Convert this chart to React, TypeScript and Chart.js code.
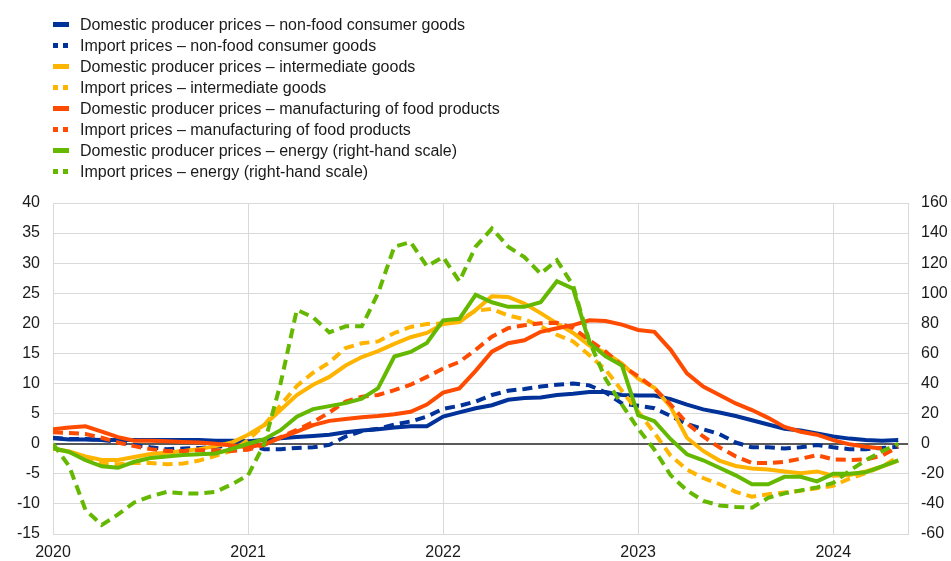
import React, { useEffect, useRef } from "react";
import { Chart, registerables } from "chart.js";

Chart.register(...registerables);

// Monthly periods, January 2020 to May 2024
const periods: string[] = [];
for (let y = 2020; y <= 2024; y++) {
  for (let m = 1; m <= 12; m++) {
    if (y === 2024 && m > 5) break;
    periods.push(`${y}-${String(m).padStart(2, "0")}`);
  }
}
const yearTicks = [2020, 2021, 2022, 2023, 2024];

// Left-hand scale (% changes)
const ppiNonFood = [
  0.9, 0.7, 0.7, 0.6, 0.6, 0.6, 0.6, 0.6, 0.6, 0.6, 0.5, 0.5, 0.4,
  0.6, 0.9, 1.1, 1.3, 1.5, 1.9, 2.2, 2.4, 2.7, 2.9, 2.9, 4.5,
  5.2, 5.9, 6.4, 7.3, 7.6, 7.7, 8.1, 8.3, 8.6, 8.6, 8.1, 8.0,
  8.0, 7.4, 6.5, 5.7, 5.2, 4.6, 3.9, 3.2, 2.5, 2.2, 1.7, 1.2, 0.85, 0.6, 0.5, 0.6,
];
const impNonFood = [
  1.0, 0.8, 0.8, 0.6, 0.3, -0.2, -0.6, -0.9, -0.8, -0.7, -0.5, -0.3, -0.3,
  -0.9, -0.9, -0.7, -0.6, -0.2, 1.2, 2.1, 2.5, 3.2, 3.7, 4.5, 5.8,
  6.3, 7.0, 8.1, 8.8, 9.1, 9.5, 9.8, 10.0, 9.7, 8.5, 6.7, 6.3,
  5.9, 4.6, 3.3, 2.4, 1.6, 0.2, -0.6, -0.6, -0.8, -0.6, -0.2, -0.6, -0.9, -0.9, -0.7, -0.5,
];
const ppiIntermediate = [
  -0.8, -1.3, -2.1, -2.7, -2.7, -2.2, -1.7, -1.5, -1.2, -0.9, -0.4, 0.2, 1.5,
  3.1, 5.6, 8.1, 9.8, 11.1, 13.0, 14.4, 15.4, 16.6, 17.7, 18.4, 19.9,
  20.2, 22.2, 24.5, 24.4, 23.3, 21.7, 20.0, 18.4, 16.3, 15.1, 13.3, 10.8,
  9.3, 6.1, 1.0, -1.2, -2.8, -3.7, -4.1, -4.3, -4.6, -4.9, -4.6, -5.3, -5.2, -4.6, -3.8, -2.8,
];
const impIntermediate = [
  -0.8, -1.4, -2.3, -3.3, -3.4, -3.2, -3.2, -3.4, -3.3, -2.8, -2.0, -1.2, 0.6,
  3.1, 6.4, 9.6, 11.8, 13.5, 15.9, 16.7, 17.0, 18.4, 19.4, 19.9, 20.0,
  20.5, 22.1, 22.4, 21.3, 20.7, 19.5, 18.1, 17.0, 14.7, 12.3, 8.8, 5.3,
  1.8, -2.0, -4.3, -5.7, -6.7, -8.0, -8.8, -8.4, -8.1, -7.8, -7.4, -7.0, -5.8, -4.9, -3.8, -2.2,
];
const ppiFood = [
  2.4, 2.7, 2.9, 2.0, 1.1, 0.5, 0.5, 0.4, 0.3, 0.2, 0.0, -0.3, -0.6,
  -0.1, 1.0, 2.0, 3.1, 3.8, 4.1, 4.4, 4.6, 4.9, 5.3, 6.5, 8.5,
  9.2, 12.1, 15.3, 16.7, 17.2, 18.6, 19.2, 19.7, 20.5, 20.4, 19.8, 18.9,
  18.6, 15.6, 11.7, 9.5, 8.1, 6.7, 5.6, 4.3, 2.8, 2.0, 1.5, 0.6, -0.1, -0.5, -0.8, null,
];
const impFood = [
  1.9, 1.8, 1.6, 1.0, 0.2, -0.4, -0.9, -1.2, -1.2, -1.1, -1.1, -1.2, -1.0,
  -0.2, 1.1, 2.3, 3.6, 5.2, 7.0, 7.8, 8.1, 8.9, 9.8, 11.1, 12.5,
  13.6, 15.6, 17.8, 19.2, 19.7, 20.0, 20.1, 19.2, 17.2, 15.3, 13.0, 11.2,
  9.2, 6.5, 3.4, 1.2, -0.6, -2.1, -3.2, -3.2, -3.0, -2.5, -1.9, -2.6, -2.7, -2.6, -2.0, -0.5,
];
// Right-hand scale (% changes)
const ppiEnergy = [
  -3, -5.5, -11, -15, -16, -12, -9.5, -8.5, -7.5, -7, -6.5, -3.5, 0,
  3, 9, 18, 23, 25, 27, 30, 37, 58, 61, 67, 82,
  83, 99, 94, 91, 91, 94, 108, 103, 67, 58, 52, 19,
  15, 3, -7, -11, -16, -21, -27, -27, -22, -22, -25, -20, -20, -19, -15, -11,
];
const impEnergy = [
  0, -15, -44, -54, -47, -39, -35, -32, -33, -33, -32, -27, -21,
  0, 40, 89, 84, 74, 78, 78, 100, 131, 134, 118, 124,
  108, 131, 143, 131, 124, 113, 122, 105, 68, 43, 26, 10,
  -4, -21, -31, -38, -41, -42, -42.5, -36, -33, -31, -29, -26, -18, -11, -5, 0,
];

const BLUE = "#003299";
const YELLOW = "#FFB400";
const ORANGE = "#FF4B00";
const GREEN = "#65B800";

type Item = { label: string; color: string; dashed: boolean; data: (number | null)[]; axis: string };
const series: Item[] = [
  { label: "Domestic producer prices \u2013 non-food consumer goods", color: BLUE, dashed: false, data: ppiNonFood, axis: "y" },
  { label: "Import prices \u2013 non-food consumer goods", color: BLUE, dashed: true, data: impNonFood, axis: "y" },
  { label: "Domestic producer prices \u2013 intermediate goods", color: YELLOW, dashed: false, data: ppiIntermediate, axis: "y" },
  { label: "Import prices \u2013 intermediate goods", color: YELLOW, dashed: true, data: impIntermediate, axis: "y" },
  { label: "Domestic producer prices \u2013 manufacturing of food products", color: ORANGE, dashed: false, data: ppiFood, axis: "y" },
  { label: "Import prices \u2013 manufacturing of food products", color: ORANGE, dashed: true, data: impFood, axis: "y" },
  { label: "Domestic producer prices \u2013 energy (right-hand scale)", color: GREEN, dashed: false, data: ppiEnergy, axis: "y2" },
  { label: "Import prices \u2013 energy (right-hand scale)", color: GREEN, dashed: true, data: impEnergy, axis: "y2" },
];

const FONT_FAMILY = "'Liberation Sans', Arial, sans-serif";
const TEXT_COLOR = "#1a1a1a";
const GRID = "#d9d9d9";

export default function App() {
  const ref = useRef<HTMLCanvasElement | null>(null);

  useEffect(() => {
    if (!ref.current) return;
    const font = { family: FONT_FAMILY, size: 16 };
    const chart = new Chart(ref.current, {
      type: "line",
      data: {
        labels: periods,
        datasets: series.map((s, k) => ({
          label: s.label,
          data: s.data.map((v, i) => ({ x: i, y: v })) as any,
          borderColor: s.color,
          backgroundColor: s.color,
          borderWidth: 4,
          borderDash: s.dashed ? [10, 6] : [],
          borderCapStyle: "butt",
          pointRadius: 0,
          tension: 0,
          fill: false,
          yAxisID: s.axis,
          order: series.length - k,
        })),
      },
      options: {
        responsive: false,
        animation: false,
        events: [],
        layout: { padding: { top: 203, left: 0, right: 0, bottom: 0 } },
        plugins: { legend: { display: false }, tooltip: { enabled: false } },
        scales: {
          x: {
            type: "linear",
            min: 0,
            max: 52.6,
            afterBuildTicks: (s: any) => {
              s.ticks = yearTicks.map((y) => ({ value: (y - 2020) * 12 }));
            },
            afterFit: (s: any) => {
              s.height = 27;
            },
            ticks: {
              autoSkip: false,
              maxRotation: 0,
              padding: 9,
              color: TEXT_COLOR,
              font,
              callback: (v: any) => String(2020 + Math.round(Number(v) / 12)),
            },
            grid: { color: GRID, lineWidth: 1, drawTicks: false },
            border: { display: true, color: GRID, width: 1 },
          },
          y: {
            position: "left",
            min: -15,
            max: 40,
            afterFit: (s: any) => {
              s.width = 53;
            },
            ticks: { stepSize: 5, padding: 13, color: TEXT_COLOR, font },
            grid: {
              drawTicks: false,
              color: (c: any) => (c.tick && c.tick.value === 0 ? "#595959" : GRID),
              lineWidth: (c: any) => (c.tick && c.tick.value === 0 ? 2 : 1),
            },
            border: { display: true, color: GRID, width: 1 },
          },
          y2: {
            position: "right",
            min: -60,
            max: 160,
            afterFit: (s: any) => {
              s.width = 43;
            },
            ticks: { stepSize: 20, padding: 13, color: TEXT_COLOR, font },
            grid: { display: false, drawTicks: false },
            border: { display: true, color: GRID, width: 1 },
          },
        },
      },
    } as any);
    return () => chart.destroy();
  }, []);

  return (
    <div style={{ position: "absolute", left: 0, top: 0, width: 951, height: 561, background: "#fff", overflow: "hidden" }}>
      <canvas ref={ref} width={951} height={561} style={{ position: "absolute", left: 0, top: 0, display: "block" }} />
      {series.map((s, k) => (
        <div
          key={k}
          style={{
            position: "absolute",
            left: 0,
            top: 14 + 21 * k,
            height: 21,
            width: 600,
            fontFamily: FONT_FAMILY,
            fontSize: 16,
            lineHeight: "21px",
            color: TEXT_COLOR,
            whiteSpace: "nowrap",
          }}
        >
          {s.dashed ? (
            <>
              <div style={{ position: "absolute", left: 53, top: 8, width: 5, height: 5, background: s.color }} />
              <div style={{ position: "absolute", left: 63, top: 8, width: 5, height: 5, background: s.color }} />
            </>
          ) : (
            <div style={{ position: "absolute", left: 53, top: 8, width: 16, height: 5, background: s.color }} />
          )}
          <span style={{ position: "absolute", left: 80, top: 0 }}>{s.label}</span>
        </div>
      ))}
    </div>
  );
}
